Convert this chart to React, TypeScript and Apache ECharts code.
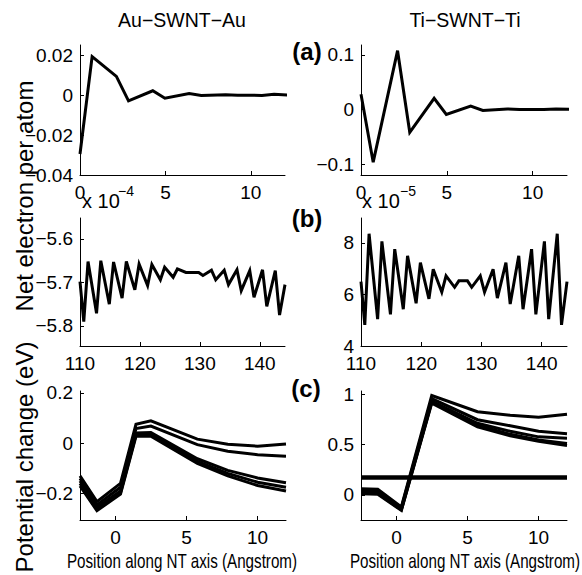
import React, { useEffect, useRef } from "react";
import * as echarts from "echarts";

// ---------- data ----------
const posA = [0, 0.71, 2.13, 2.84, 4.26, 4.97, 6.39, 7.1, 8.52, 9.23, 10.65, 11.36, 12.78];
const chargeAuA = [-0.0295, 0.0192, 0.0093, -0.0029, 0.0021, -0.0016, 0.0007, -0.0002, 0.0001, -0.0001, -0.0002, 0.0004, -0.0003];
const chargeTiA = [0.0277, -0.0965, 0.1076, -0.0418, 0.0203, -0.0092, 0.0062, -0.0018, 0.001, 0.0, 0.0, 0.0008, 0.0];

const posB = [110, 110.63, 111.34, 112.76, 113.47, 114.89, 115.6, 117.02, 117.73, 119.15, 119.86, 121.28, 121.99, 123.41, 124.12, 125.54, 126.25, 127.67, 128.38, 129.8, 130.51, 131.93, 132.64, 134.06, 134.77, 136.19, 136.9, 138.32, 139.03, 140.45, 141.16, 142.58, 143.29, 144.2];
const chargeAuB = [-5.698, -5.79, -5.652, -5.771, -5.65, -5.75, -5.653, -5.736, -5.652, -5.717, -5.658, -5.707, -5.659, -5.694, -5.665, -5.688, -5.669, -5.677, -5.677, -5.677, -5.684, -5.672, -5.694, -5.672, -5.705, -5.671, -5.719, -5.673, -5.734, -5.671, -5.755, -5.673, -5.775, -5.705];
const chargeTiB = [6.5, 4.82, 8.36, 5.04, 8.06, 5.23, 7.76, 5.43, 7.5, 5.66, 7.24, 5.83, 6.98, 6.09, 6.72, 6.28, 6.53, 6.53, 6.28, 6.72, 6.09, 6.98, 5.86, 7.24, 5.63, 7.5, 5.43, 7.76, 5.23, 8.06, 5.04, 8.36, 4.82, 6.5];

const posCAu = [-2.5, -1.31, 0.35, 1.44, 2.49, 5.76, 7.9, 10, 12];
const potAu1 = [-0.13, -0.232, -0.16, 0.075, 0.089, 0.016, -0.004, -0.012, -0.003];
const potAu2 = [-0.14, -0.245, -0.175, 0.058, 0.068, -0.006, -0.032, -0.046, -0.052];
const potAu3 = [-0.15, -0.255, -0.19, 0.04, 0.042, -0.062, -0.108, -0.138, -0.157];
const potAu4 = [-0.16, -0.262, -0.197, 0.033, 0.034, -0.072, -0.12, -0.155, -0.175];
const potAu5 = [-0.17, -0.268, -0.202, 0.027, 0.028, -0.08, -0.13, -0.168, -0.19];

const posCTi = [-2.5, -1.32, 0.34, 2.48, 5.7, 8, 10, 12];
const potTi1 = [0.06, 0.055, -0.12, 0.985, 0.825, 0.79, 0.77, 0.8];
const potTi2 = [0.05, 0.045, -0.13, 0.955, 0.745, 0.685, 0.63, 0.605];
const potTi3 = [0.035, 0.03, -0.14, 0.93, 0.71, 0.63, 0.575, 0.56];
const potTi4 = [0.02, 0.015, -0.15, 0.92, 0.69, 0.6, 0.545, 0.51];
const potTi5 = [0.01, 0.005, -0.155, 0.91, 0.675, 0.585, 0.53, 0.49];
const flatTiX = [-2.5, 12];
const flatTiY = [0.172, 0.172];

// tick values
const xTicksA = [0, 5, 10];
const xTicksB = [110, 120, 130, 140];
const xTicksC = [0, 5, 10];
const yTicksAuA = [-0.04, -0.02, 0, 0.02];
const yTicksTiA = [-0.1, 0, 0.1];
const yTicksAuB = [-5.8, -5.7, -5.6];
const yTicksTiB = [4, 6, 8];
const yTicksAuC = [-0.2, 0, 0.2];
const yTicksTiC = [0, 0.5, 1];

const titles = ["Au\u2212SWNT\u2212Au", "Ti\u2212SWNT\u2212Ti"];
const panelTags = ["(a)", "(b)", "(c)"];
const yNames = ["Net electron per atom", "Potential change (eV)"];
const xName = "Position along NT axis (Angstrom)";

const FONT = '"Liberation Sans", Arial, Helvetica, sans-serif';

const zip = (xs: number[], ys: number[]) => xs.map((x, i) => [x, ys[i]]);
const fmt = (v: number) => {
  const r = Math.round(v * 1e6) / 1e6;
  if (Math.abs(r) < 1e-9) return "0";
  return String(r).replace("-", "\u2212");
};

const grids = [
  { left: 80, top: 45, width: 205, height: 130 },
  { left: 361, top: 45, width: 206, height: 130 },
  { left: 80, top: 218, width: 205, height: 128 },
  { left: 361, top: 218, width: 206, height: 128 },
  { left: 80, top: 391, width: 206, height: 129 },
  { left: 361, top: 391, width: 206, height: 129 },
];

function axis(kind: "x" | "y", gridIndex: number, min: number, max: number, ticks: number[]) {
  return {
    type: "value",
    gridIndex,
    min,
    max,
    axisLine: { show: true, onZero: false, lineStyle: { color: "#000", width: 1 } },
    axisTick: { show: true, inside: true, length: 4, customValues: ticks, lineStyle: { color: "#000" } },
    axisLabel: {
      customValues: ticks,
      formatter: fmt,
      color: "#000",
      fontSize: 19,
      fontFamily: FONT,
      margin: kind === "x" ? 8 : 7,
    },
    splitLine: { show: false },
  };
}

function line(idx: number, xs: number[], ys: number[], width = 3) {
  return {
    type: "line",
    xAxisIndex: idx,
    yAxisIndex: idx,
    data: zip(xs, ys),
    showSymbol: false,
    symbol: "none",
    silent: true,
    clip: true,
    lineStyle: { color: "#000", width, join: "miter", cap: "butt" },
  };
}

function text(x: number, y: number, t: string, size: number, extra: any = {}) {
  const { bold, align, ...rest } = extra;
  return {
    type: "text",
    x,
    y,
    ...rest,
    style: {
      text: t,
      fill: "#000",
      font: `${bold ? "bold " : ""}${size}px ${FONT}`,
      textAlign: align || "center",
      textVerticalAlign: "middle",
    },
  };
}

export default function App() {
  const ref = useRef<HTMLDivElement>(null);
  useEffect(() => {
    if (!ref.current) return;
    const chart = echarts.init(ref.current, undefined, { renderer: "svg" });
    const option: any = {
      animation: false,
      backgroundColor: "#fff",
      grid: grids.map((g) => ({ ...g, outerBoundsMode: "none", containLabel: false })),
      xAxis: [
        axis("x", 0, 0, 12, xTicksA),
        axis("x", 1, 0, 12, xTicksA),
        axis("x", 2, 110, 144.2, xTicksB),
        axis("x", 3, 110, 144.2, xTicksB),
        axis("x", 4, -2.5, 12, xTicksC),
        axis("x", 5, -2.5, 12, xTicksC),
      ],
      yAxis: [
        axis("y", 0, -0.04, 0.025, yTicksAuA),
        axis("y", 1, -0.12, 0.118, yTicksTiA),
        axis("y", 2, -5.846, -5.552, yTicksAuB),
        axis("y", 3, 4, 8.97, yTicksTiB),
        axis("y", 4, -0.305, 0.207, yTicksAuC),
        axis("y", 5, -0.25, 1.03, yTicksTiC),
      ],
      series: [
        line(0, posA, chargeAuA),
        line(1, posA, chargeTiA),
        line(2, posB, chargeAuB),
        line(3, posB, chargeTiB),
        line(4, posCAu, potAu1),
        line(4, posCAu, potAu2),
        line(4, posCAu, potAu3),
        line(4, posCAu, potAu4),
        line(4, posCAu, potAu5),
        line(5, posCTi, potTi1),
        line(5, posCTi, potTi2),
        line(5, posCTi, potTi3),
        line(5, posCTi, potTi4),
        line(5, posCTi, potTi5),
        line(5, flatTiX, flatTiY, 4.5),
      ],
      graphic: [
        text(182, 20, titles[0], 19.5),
        text(465, 20, titles[1], 19.5),
        text(307, 51, panelTags[0], 24, { bold: true }),
        text(307, 218, panelTags[1], 24, { bold: true }),
        text(306, 388, panelTags[2], 24, { bold: true }),
        text(82, 201, "x 10", 20, { align: "left" }),
        text(118, 191, "\u22124", 14, { align: "left" }),
        text(362, 201, "x 10", 20, { align: "left" }),
        text(400, 191, "\u22125", 14, { align: "left" }),
        text(24, 196, yNames[0], 24, { rotation: Math.PI / 2 }),
        text(24, 457, yNames[1], 24, { rotation: Math.PI / 2 }),
        text(182, 561, xName, 20, { scaleX: 0.76 }),
        text(465, 561, xName, 20, { scaleX: 0.76 }),
      ],
    };
    chart.setOption(option);
    return () => chart.dispose();
  }, []);
  return (
    <div
      ref={ref}
      style={{ position: "fixed", left: 0, top: 0, width: 582, height: 575, background: "#fff" }}
    />
  );
}
